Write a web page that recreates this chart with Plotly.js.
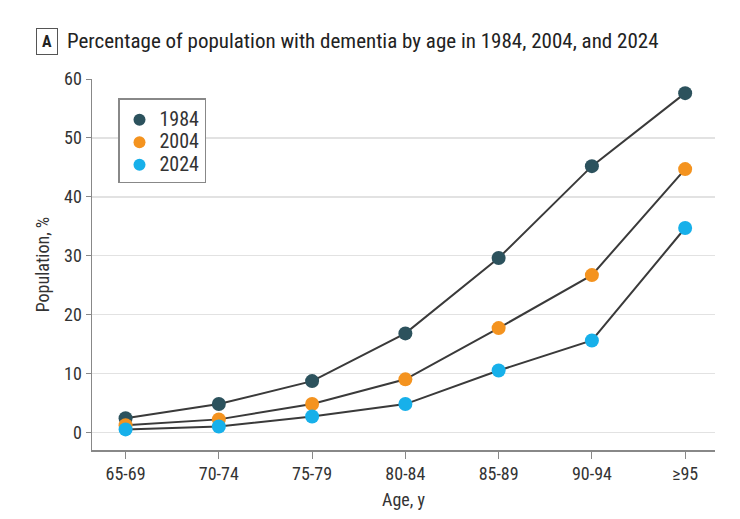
<!DOCTYPE html>
<html>
<head>
<meta charset="utf-8">
<script src="https://cdn.plot.ly/plotly-3.0.1.min.js"></script>
<style>html,body{margin:0;padding:0;background:#fff;}#chart{width:740px;height:519px;}</style>
</head>
<body>
<div id="chart"></div>
<script>
const ageGroups = ["65-69", "70-74", "75-79", "80-84", "85-89", "90-94", "≥95"];
const years = ["1984", "2004", "2024"];
const values1984 = [2.4, 4.8, 8.7, 16.8, 29.6, 45.2, 57.6];
const values2004 = [1.2, 2.2, 4.8, 9.0, 17.7, 26.7, 44.7];
const values2024 = [0.5, 1.0, 2.7, 4.8, 10.5, 15.6, 34.7];
const seriesColors = ["#2c525d", "#f4931f", "#17b0ea"];
const yTicks = [0, 10, 20, 30, 40, 50, 60];

const FONT = "'Liberation Sans Narrow', 'Arial Narrow', 'Roboto Condensed', sans-serif";
const allValues = [values1984, values2004, values2024];

const traces = [];
allValues.forEach((vals) => {
  traces.push({
    x: ageGroups, y: vals, type: "scatter", mode: "lines",
    line: {color: "#3a3a3a", width: 2}, showlegend: false, hoverinfo: "skip"
  });
});
allValues.forEach((vals, i) => {
  traces.push({
    x: ageGroups, y: vals, type: "scatter", mode: "markers",
    name: '<span style="font-size:20px">' + years[i] + '</span>',
    marker: {color: seriesColors[i], size: 14}
  });
});

const layout = {
  width: 740, height: 519,
  margin: {l: 92, r: 25, t: 79, b: 69},
  paper_bgcolor: "#fff", plot_bgcolor: "#fff",
  font: {family: FONT, color: "#333", size: 15},
  title: {
    text: "Percentage of population with dementia by age in 1984, 2004, and 2024",
    font: {family: FONT, size: 21, color: "#222"},
    x: 67/740, xanchor: "left", xref: "container",
    y: 1 - 41/519, yanchor: "middle", yref: "container"
  },
  xaxis: {
    type: "category", range: [-0.36, 6.32],
    showgrid: false, zeroline: false,
    showline: true, linecolor: "#888", linewidth: 1.5,
    ticks: "outside", ticklen: 7, tickcolor: "#888", tickwidth: 1,
    tickfont: {family: FONT, size: 18, color: "#333"},
    title: {text: "Age, y", font: {family: FONT, size: 18, color: "#333"}, standoff: 10}
  },
  yaxis: {
    range: [-3, 60], tickvals: yTicks,
    showgrid: true, gridcolor: "#e2e2e2", gridwidth: 1.5,
    zeroline: false,
    showline: true, linecolor: "#888", linewidth: 1.5,
    ticks: "outside", ticklen: 5, tickcolor: "#888",
    tickfont: {family: FONT, size: 18, color: "#333"},
    title: {text: "Population, %", font: {family: FONT, size: 18, color: "#333"}, standoff: 10}
  },
  legend: {
    x: (118-92)/623, y: (450-98)/371, xanchor: "left", yanchor: "top",
    bordercolor: "#888", borderwidth: 1.5, bgcolor: "#fff",
    font: {family: FONT, size: 15, color: "#333"},
    title: {text: "&nbsp;", font: {family: FONT, size: 3}},
    tracegroupgap: 0, itemsizing: "constant"
  },
  annotations: [{
    text: "<b>A</b>", xref: "paper", yref: "paper",
    x: (47-92)/623, y: (450-41)/371, xanchor: "center", yanchor: "middle",
    showarrow: false, font: {family: FONT, size: 16, color: "#222"},
    bordercolor: "#555", borderwidth: 1, borderpad: 3, width: 14
  }],
  showlegend: true
};

Plotly.newPlot("chart", traces, layout, {displayModeBar: false, staticPlot: true});
</script>
</body>
</html>
